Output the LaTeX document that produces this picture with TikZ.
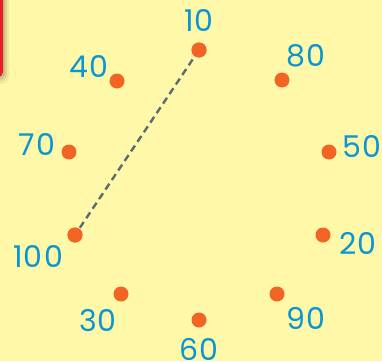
\documentclass[tikz,border=0pt]{standalone}
\usepackage{fontspec}
\setmainfont{Poppins}
\newfontfamily\numfont[LetterSpace=4]{Poppins}
\definecolor{bgyellow}{HTML}{FFF8A8}
\definecolor{numblue}{HTML}{0A95D3}
\definecolor{dotorange}{HTML}{F26424}
\definecolor{dashgray}{HTML}{5B6B70}
\definecolor{redtab}{HTML}{E61E2A}
\begin{document}
\begin{tikzpicture}[x=1pt,y=-1pt,
  dotmark/.style={circle,fill=dotorange,inner sep=0pt,minimum size=15pt},
  numlabel/.style={text=numblue,font=\numfont\fontsize{30}{30}\selectfont,inner sep=0pt}]
\useasboundingbox (0,0) rectangle (382,361);
\fill[bgyellow] (0,0) rectangle (382,361);
% red tab with soft shadow
\fill[black,opacity=0.06,rounded corners=8pt] (-20,-20) rectangle (9,84);
\fill[black,opacity=0.08,rounded corners=7pt] (-20,-20) rectangle (7,81);
\fill[black,opacity=0.10,rounded corners=6pt] (-20,-20) rectangle (5,79);
\fill[redtab,rounded corners=5pt] (-20,-20) rectangle (3,77);
% dots
\node[dotmark] (d10) at (199,50) {};
\node[dotmark] (d80) at (282,80) {};
\node[dotmark] (d50) at (329,152) {};
\node[dotmark] (d20) at (323,235) {};
\node[dotmark] (d90) at (277,294) {};
\node[dotmark] (d60) at (199,320) {};
\node[dotmark] (d30) at (121,294) {};
\node[dotmark] (d100) at (75,235) {};
\node[dotmark] (d70) at (69,152) {};
\node[dotmark] (d40) at (117,81) {};
% labels
\node[numlabel] (l10) at (199,20) {10};
\node[numlabel] (l80) at (306,56) {80};
\node[numlabel] (l50) at (362,147) {50};
\node[numlabel] (l20) at (358,243) {20};
\node[numlabel] (l90) at (306,318) {90};
\node[numlabel] (l60) at (199,349) {60};
\node[numlabel] (l30) at (98,321) {30};
\node[numlabel] (l100) at (38,256) {100};
\node[numlabel] (l70) at (37,144) {70};
\node[numlabel] (l40) at (89,66) {40};
% dashed connector
\draw[dashgray,line width=2.4pt,dash pattern=on 7pt off 4.5pt] (d10.center) -- (d100.center);
\node[dotmark] at (d10) {};
\node[dotmark] at (d100) {};
\end{tikzpicture}
\end{document}
